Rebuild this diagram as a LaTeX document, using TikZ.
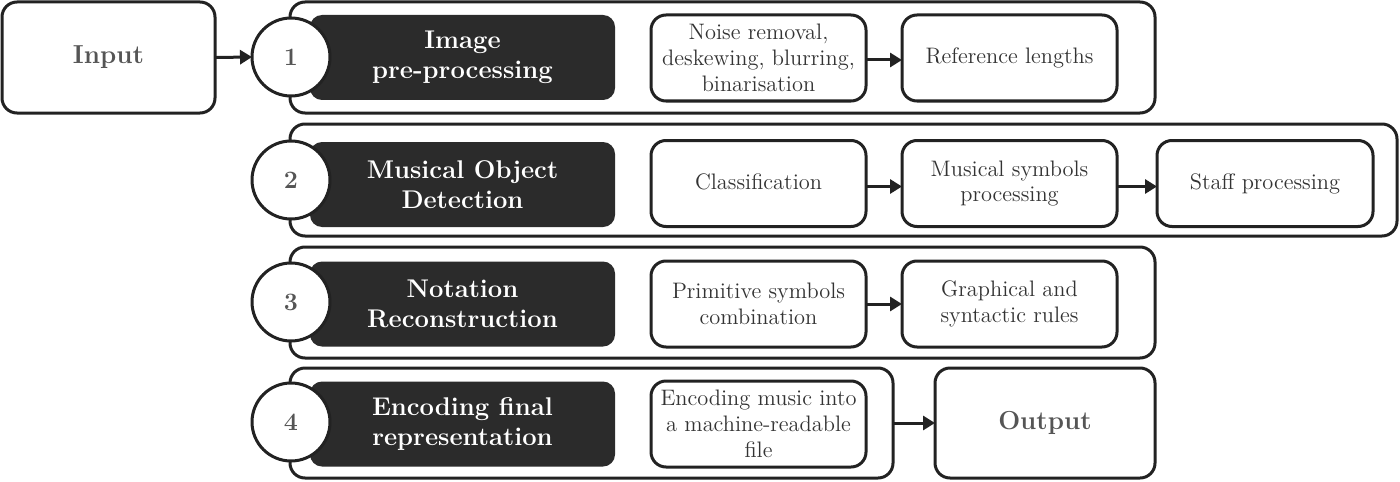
\documentclass[tikz,border=0pt]{standalone}
\usetikzlibrary{arrows.meta}
\definecolor{ink}{HTML}{222222}
\definecolor{darkfill}{HTML}{2B2B2B}
\definecolor{txt}{HTML}{333333}
\definecolor{graytxt}{HTML}{555555}
\begin{document}
\begin{tikzpicture}[x=0.5pt,y=-0.5pt,
  every node/.style={inner sep=0pt,outer sep=0pt},
  outerbox/.style={draw=ink,line width=1.5pt,rounded corners=7.5pt,fill=white},
  endbox/.style={draw=ink,line width=1.5pt,rounded corners=7.5pt,fill=white,
     font=\fontsize{13}{15}\selectfont\bfseries,text=graytxt},
  darkbox/.style={fill=darkfill,rounded corners=6pt,minimum width=152.5pt,minimum height=42.5pt,
     text=white,align=center,font=\fontsize{12.8}{15}\selectfont\bfseries},
  numcirc/.style={circle,draw=ink,line width=1.5pt,fill=white,minimum size=39pt,
     font=\fontsize{12.5}{15}\selectfont\bfseries,text=graytxt},
  stepbox/.style={draw=ink,line width=1.5pt,rounded corners=7.5pt,fill=white,
     minimum width=107.5pt,minimum height=43pt,align=center,text=txt,
     font=\fontsize{11.2}{12.9}\selectfont},
  conn/.style={draw=ink,line width=1.5pt,-{Triangle[length=6pt,width=7pt]}}]
\useasboundingbox (0,0) rectangle (1400,481);
% Input
\node[endbox,minimum width=106.5pt,minimum height=55.5pt] (input) at (108.5,57.5) {Input};
% Row 1
\node[outerbox,minimum width=432.5pt,minimum height=55.5pt] (r1) at (722.5,57.5) {};
\node[darkbox] (d1) at (462.5,57.5) {Image\\pre-processing};
\node[numcirc] (c1) at (291,57) {1};
\node[stepbox] (a1) at (758.5,58) {Noise removal,\\deskewing, blurring,\\binarisation};
\node[stepbox] (b1) at (1009.5,58) {Reference lengths};
% Row 2
\node[outerbox,minimum width=553.5pt,minimum height=56pt] (r2) at (843.5,180) {};
\node[darkbox] (d2) at (462.5,184.5) {Musical Object\\Detection};
\node[numcirc] (c2) at (291,180) {2};
\node[stepbox] (a2) at (758.5,183.5) {\raisebox{2pt}{Classification}};
\node[stepbox] (b2) at (1009.5,183.5) {Musical symbols\\processing};
\node[stepbox,minimum width=108pt] (e2) at (1265,183.5) {\raisebox{1pt}{Staff processing}};
% Row 3
\node[outerbox,minimum width=432.5pt,minimum height=55.5pt] (r3) at (722.5,302.5) {};
\node[darkbox] (d3) at (462.5,304) {Notation\\Reconstruction};
\node[numcirc] (c3) at (291,302) {3};
\node[stepbox] (a3) at (758.5,304) {Primitive symbols\\combination};
\node[stepbox] (b3) at (1009.5,304) {Graphical and\\syntactic rules};
% Row 4
\node[outerbox,minimum width=301.5pt,minimum height=55pt] (r4) at (591.5,423) {};
\node[darkbox] (d4) at (462.5,424) {Encoding final\\representation};
\node[numcirc] (c4) at (291,422) {4};
\node[stepbox] (a4) at (758.5,424) {Encoding music into\\a machine-readable\\file};
\node[endbox,minimum width=110pt,minimum height=55pt] (output) at (1045,423) {Output};
% Connectors
\draw[conn] (input.east) -- (c1.west);
\draw[conn] ([yshift=-1pt]a1.east) -- ([yshift=-1pt]b1.west);
\draw[conn] ([yshift=-1.5pt]a2.east) -- ([yshift=-1.5pt]b2.west);
\draw[conn] ([yshift=-1.5pt]b2.east) -- ([yshift=-1.5pt]e2.west);
\draw[conn] (a3.east) -- (b3.west);
\draw[conn] (r4.east) -- (output.west);
\end{tikzpicture}
\end{document}
